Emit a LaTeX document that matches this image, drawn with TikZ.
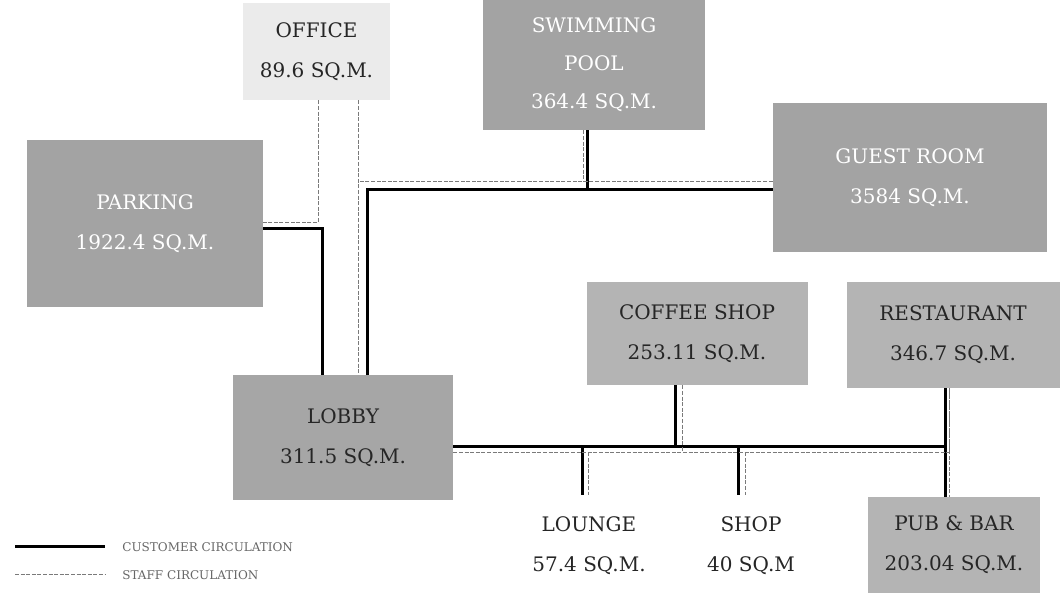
\documentclass[tikz,border=0pt]{standalone}
\usepackage{fontspec}
\newfontfamily\slab{DejaVu Serif}
\definecolor{boxdark}{HTML}{A3A3A3}
\definecolor{boxmid}{HTML}{B4B4B4}
\definecolor{boxlight}{HTML}{EBEBEB}
\definecolor{inkdark}{HTML}{262626}
\definecolor{staffgray}{HTML}{7A7A7A}
\tikzset{
  room/.style={fill=boxmid,text=inkdark,align=center,inner sep=0pt,font=\slab\fontsize{10}{20}\selectfont},
  darkroom/.style={room,fill=boxdark,text=white},
  plainroom/.style={room,fill=none},
  cust/.style={line width=1.5pt,black},
  staff/.style={line width=.5pt,staffgray,dash pattern=on 2pt off .8pt},
  legendtxt/.style={anchor=west,text=black!60,inner sep=0pt,font=\slab\fontsize{6}{8}\selectfont}
}

\begin{document}
\begin{tikzpicture}[x=.5pt,y=-.5pt]
\useasboundingbox (0,0) rectangle (1061,613);
% rooms
\node[room,fill=boxlight,minimum width=73.5pt,minimum height=48.5pt] (office) at (316.5,51.5) {OFFICE\\89.6 SQ.M.};
\node[darkroom,minimum width=118pt,minimum height=83.5pt] (parking) at (145,223.5) {PARKING\\1922.4 SQ.M.};
\node[darkroom,minimum width=111pt,minimum height=65pt,font=\slab\fontsize{10}{19}\selectfont] (pool) at (594,65) {SWIMMING\\POOL\\364.4 SQ.M.};
\node[darkroom,minimum width=137pt,minimum height=74.5pt] (guest) at (910,177.5) {GUEST ROOM\\3584 SQ.M.};
\node[room,fill=boxmid!92!black,minimum width=110pt,minimum height=62.5pt] (lobby) at (343,437.5) {LOBBY\\311.5 SQ.M.};
\node[room,minimum width=110.5pt,minimum height=51.5pt] (coffee) at (697,333.5) {COFFEE SHOP\\253.11 SQ.M.};
\node[room,minimum width=106.5pt,minimum height=53pt] (restaurant) at (953,335) {RESTAURANT\\346.7 SQ.M.};
\node[room,minimum width=86pt,minimum height=48pt] (pub) at (954,545) {PUB \& BAR\\203.04 SQ.M.};
\node[plainroom,minimum height=51pt] (lounge) at (589,546) {LOUNGE\\57.4 SQ.M.};
\node[plainroom,minimum height=51pt] (shop) at (751,546) {SHOP\\40 SQ.M};

% bus points
\coordinate (gbus) at ([yshift=-6pt]guest.west); \coordinate (gstaff) at ([yshift=-2pt]guest.west);
\coordinate (lbus) at ([yshift=-4.5pt]lobby.east); \coordinate (lstaff) at ([yshift=-7.5pt]lobby.east);
\coordinate (ostaff) at ([xshift=21pt]office.south);

% customer circulation
\draw[cust] ([yshift=-2.5pt]parking.east) -| ([xshift=-10.5pt]lobby.north);
\draw[cust] ([xshift=12pt]lobby.north) |- (gbus);
\draw[cust] ([xshift=-3.5pt]pool.south) -- ([xshift=-3.5pt]pool.south |- gbus);
\draw[cust] (lbus) -| ([xshift=-4pt]restaurant.south);
\draw[cust] ([xshift=-4pt]restaurant.south) -- ([xshift=-4pt]restaurant.south |- pub.north);
\draw[cust] ([xshift=-11pt]coffee.south) -- ([xshift=-11pt]coffee.south |- lbus);
\foreach \r/\dx in {lounge/-3.5pt,shop/-6.5pt}
  \draw[cust] ([xshift=\dx]\r.north |- lbus) -- ([xshift=\dx]\r.north);

% staff circulation
\draw[staff] ([xshift=.75pt]office.south) |- ([yshift=.5pt]parking.east);
\draw[staff] (ostaff) -- (ostaff |- lobby.north);
\draw[staff] (gstaff) -- (gstaff -| ostaff);
\draw[staff] ([xshift=-5.5pt]pool.south) -- ([xshift=-5.5pt]pool.south |- gstaff);
\draw[staff] (lstaff) -| ([xshift=-2pt]restaurant.south);
\draw[staff] ([xshift=-2pt]restaurant.south) -- ([xshift=-2pt]restaurant.south |- pub.north);
\draw[staff] ([xshift=-7.5pt]coffee.south) -- ([xshift=-7.5pt]coffee.south |- lstaff);
\foreach \r/\dx in {lounge/-.5pt,shop/-3pt}
  \draw[staff] ([xshift=\dx]\r.north |- lstaff) -- ([xshift=\dx]\r.north);

% legend
\node[legendtxt] (custkey) at (122,547) {CUSTOMER CIRCULATION};
\node[legendtxt] (staffkey) at (122,575) {STAFF CIRCULATION};
\coordinate (custend) at (15,547); \coordinate (staffend) at (15,575);
\draw[cust] (custend) -- ([xshift=-8.5pt]custkey.west);
\draw[staff] (staffend) -- ([xshift=-8.5pt]staffkey.west);
\end{tikzpicture}
\end{document}
